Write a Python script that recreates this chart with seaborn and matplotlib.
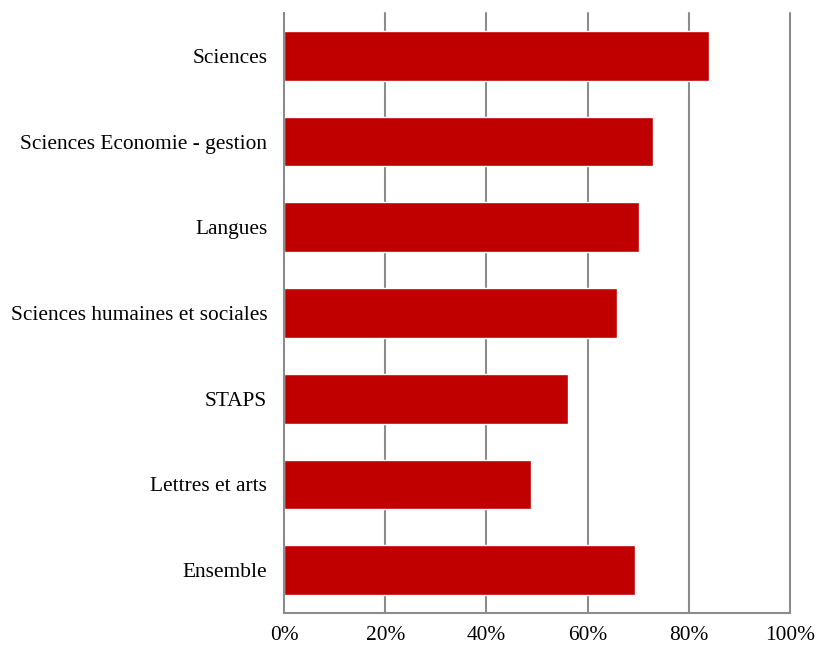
import matplotlib
matplotlib.use("Agg")
import matplotlib.pyplot as plt
import seaborn as sns
import pandas as pd
import numpy as np
from matplotlib.ticker import FixedLocator, PercentFormatter

categories = [
    "Sciences",
    "Sciences Economie - gestion",
    "Langues",
    "Sciences humaines et sociales",
    "STAPS",
    "Lettres et arts",
    "Ensemble",
]
values = [84.0, 72.9, 70.1, 65.8, 56.2, 48.8, 69.4]
x_ticks = [0, 20, 40, 60, 80, 100]

df = pd.DataFrame({"filiere": categories, "part": values})

sns.set_theme(style="white")
plt.rcParams["font.family"] = ["Liberation Serif", "DejaVu Serif"]

fig = plt.figure(figsize=(8.27, 6.46), dpi=100)
ax = fig.add_axes([284 / 827, 1 - 613 / 646, (790 - 284) / 827, (613 - 13) / 646])

grey = "#8c8c8c"
ax.set_axisbelow(True)
for t in x_ticks[1:]:
    ax.axvline(t, color=grey, lw=1.5, zorder=0, clip_on=False)

sns.barplot(data=df, y="filiere", x="part", orient="h", color="#C00000",
            saturation=1, width=0.58, ax=ax, zorder=2)

ax.set_xlim(0, 100)
ax.set_ylim(len(categories) - 0.5, -0.5)
ax.set_xticks(x_ticks)
ax.xaxis.set_major_formatter(PercentFormatter(decimals=0))
ax.set_xlabel("")
ax.set_ylabel("")

for side in ["top", "right"]:
    ax.spines[side].set_visible(False)
for side in ["left", "bottom"]:
    ax.spines[side].set_color(grey)
    ax.spines[side].set_linewidth(1.5)

ax.tick_params(axis="y", which="major", length=0, pad=12, labelsize=15.4, labelcolor="black")
ax.yaxis.set_minor_locator(FixedLocator(np.arange(-0.5, len(categories), 1.0)))
ax.tick_params(axis="y", which="minor", length=4, width=1.5, color=grey, direction="out")
ax.tick_params(axis="x", which="major", length=3.5, width=1.5, color=grey, direction="out",
               pad=6, labelsize=15.4, labelcolor="black")

fig.savefig("out.png", dpi=100)
